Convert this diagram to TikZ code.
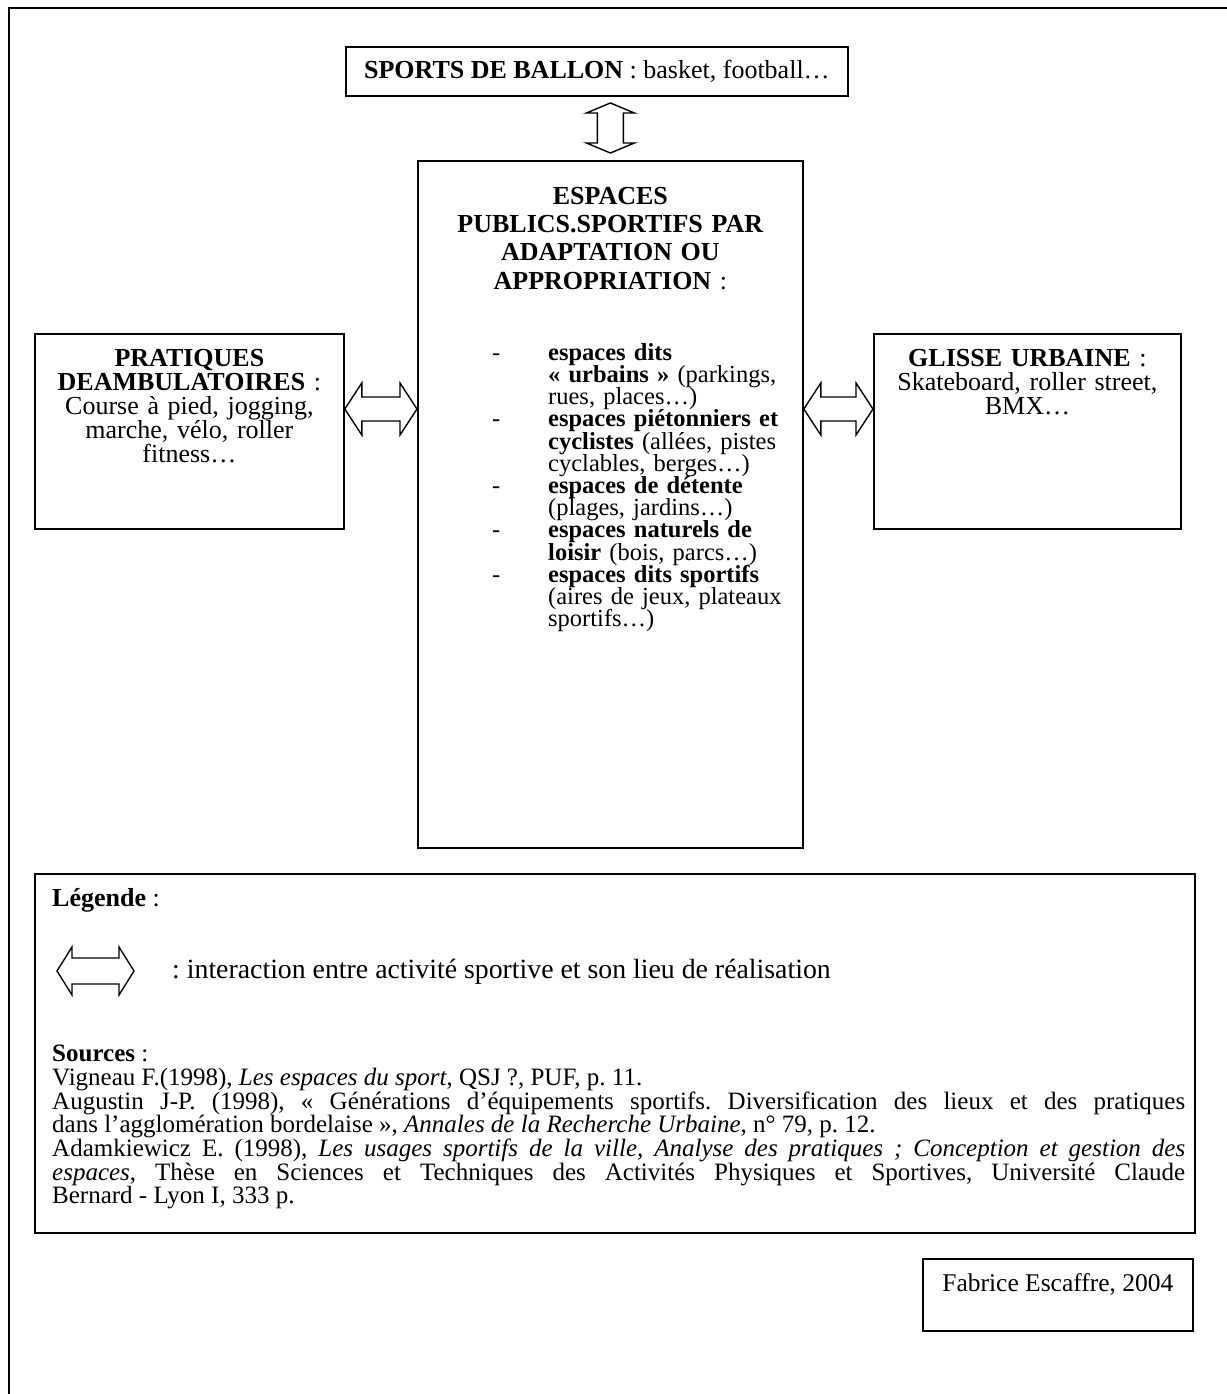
\documentclass[tikz,border=0pt]{standalone}
\usepackage{fontspec}
\setmainfont{Liberation Serif}
\usetikzlibrary{calc}
\frenchspacing
\newcommand\fsz[2]{\fontsize{#1}{#2}\selectfont\lineskiplimit=-100pt\lineskip=0pt\relax}
\newcommand\hdarrow[5]{%
  \draw[dbl] let \p1=(#1), \p2=(#2) in
  (\x1,\y1) -- (\x1+#3,\y1+#4) -- (\x1+#3,\y1+#5) -- (\x2-#3,\y1+#5) -- (\x2-#3,\y1+#4)
  -- (\x2,\y1) -- (\x2-#3,\y1-#4) -- (\x2-#3,\y1-#5) -- (\x1+#3,\y1-#5) -- (\x1+#3,\y1-#4) -- cycle;}
\newcommand\vdarrow[5]{%
  \draw[dbl] let \p1=(#1), \p2=(#2) in
  (\x1,\y1) -- (\x1+#4,\y1-#3) -- (\x1+#5,\y1-#3) -- (\x1+#5,\y2+#3) -- (\x1+#4,\y2+#3)
  -- (\x1,\y2) -- (\x1-#4,\y2+#3) -- (\x1-#5,\y2+#3) -- (\x1-#5,\y1-#3) -- (\x1-#4,\y1-#3) -- cycle;}
\begin{document}
\begin{tikzpicture}[x=1pt,y=-1pt,
  box/.style={draw, line width=1.8pt, inner sep=0pt, rectangle},
  txt/.style={inner sep=0pt, font=\fsz{26}{24}},
  dbl/.style={draw, line width=1.4pt, line join=miter}]
\useasboundingbox (0,0) rectangle (1226,1394);
\fill[white] (0,0) rectangle (1226,1394);
\draw[line width=2.5pt] (9,1400) -- (9,8) -- (1232,8);

% boxes
\node[box, anchor=north west, minimum width=502pt, minimum height=49pt, font=\fsz{26}{24}] (ballon) at (345,46)
  {\textbf{SPORTS DE BALLON} : basket, football…};
\node[box, anchor=north west, minimum width=385pt, minimum height=687pt] (centre) at (417,160) {};
\node[box, anchor=north west, minimum width=309pt, minimum height=195pt] (lbox) at (34,333) {};
\node[box, anchor=north west, minimum width=307pt, minimum height=195pt] (rbox) at (873,333) {};
\node[box, anchor=north west, minimum width=1160pt, minimum height=359pt] (legend) at (34,873) {};
\node[box, anchor=north west, minimum width=270pt, minimum height=72pt] (sig) at (922,1258) {};

% texts
\node[txt, anchor=north, text width=300pt, align=center] (ltext) at (lbox.north |- 0,349)
  {\textbf{PRATIQUES}\\\textbf{DEAMBULATOIRES} :\\Course à pied, jogging,\\marche, vélo, roller\\fitness…};
\node[txt, anchor=north, text width=300pt, align=center] (rtext) at (rbox.north |- 0,349)
  {\textbf{GLISSE URBAINE} :\\Skateboard, roller street,\\BMX…};
\node[txt, anchor=north, text width=380pt, align=center, font=\fsz{26}{28.2}] (head) at (centre.north |- 0,187)
  {\textbf{ESPACES}\\\textbf{PUBLICS.SPORTIFS PAR}\\\textbf{ADAPTATION OU}\\\textbf{APPROPRIATION} :};
\node[txt, anchor=north west, text width=300pt, align=left, font=\fsz{24.5}{22.2}] (list) at (492,343)
  {\makebox[56pt][l]{-}\textbf{espaces dits}\\
   \hspace*{56pt}\textbf{« urbains »} (parkings,\\
   \hspace*{56pt}rues, places…)\\
   \makebox[56pt][l]{-}\textbf{espaces piétonniers et}\\
   \hspace*{56pt}\textbf{cyclistes} (allées, pistes\\
   \hspace*{56pt}cyclables, berges…)\\
   \makebox[56pt][l]{-}\textbf{espaces de détente}\\
   \hspace*{56pt}(plages, jardins…)\\
   \makebox[56pt][l]{-}\textbf{espaces naturels de}\\
   \hspace*{56pt}\textbf{loisir} (bois, parcs…)\\
   \makebox[56pt][l]{-}\textbf{espaces dits sportifs}\\
   \hspace*{56pt}(aires de jeux, plateaux\\
   \hspace*{56pt}sportifs…)};

\node[txt, anchor=base west] (leg) at (52,906) {\textbf{Légende} :};
\node[txt, anchor=base west, font=\fsz{27.8}{30}] (legtxt) at (172,978) {: interaction entre activité sportive et son lieu de réalisation};
\node[txt, anchor=north west, text width=1133pt, align=justify, font=\fsz{25}{23.7}] (src) at (52,1045)
  {\textbf{Sources} :\\
   Vigneau F.(1998), \textit{Les espaces du sport}, QSJ ?, PUF, p. 11.\\
   Augustin J-P. (1998), « Générations d’équipements sportifs. Diversification des lieux et des pratiques\linebreak
   dans l’agglomération bordelaise », \textit{Annales de la Recherche Urbaine}, n° 79, p. 12.\\
   Adamkiewicz E. (1998), \textit{Les usages sportifs de la ville, Analyse des pratiques ; Conception et gestion des}\linebreak
   \textit{espaces}, Thèse en Sciences et Techniques des Activités Physiques et Sportives, Université Claude\linebreak
   Bernard - Lyon I, 333 p.};
\node[txt, anchor=base, font=\fsz{25.5}{28}] (sigtxt) at (sig.north |- 0,1291) {Fabrice Escaffre, 2004};

% connectors
\path (centre.north) ++(0,-57) coordinate (vt);
\path (centre.north) ++(0,-7) coordinate (vb);
\vdarrow{vt}{vb}{10pt}{24pt}{13pt}
\coordinate (aline) at (0,409);
\hdarrow{lbox.east |- aline}{centre.west |- aline}{17pt}{26pt}{12pt}
\hdarrow{centre.east |- aline}{rbox.west |- aline}{17pt}{26pt}{12pt}
\coordinate (g1) at (57,971);
\coordinate (g2) at (134,971);
\hdarrow{g1}{g2}{15pt}{24pt}{13pt}
\end{tikzpicture}
\end{document}
